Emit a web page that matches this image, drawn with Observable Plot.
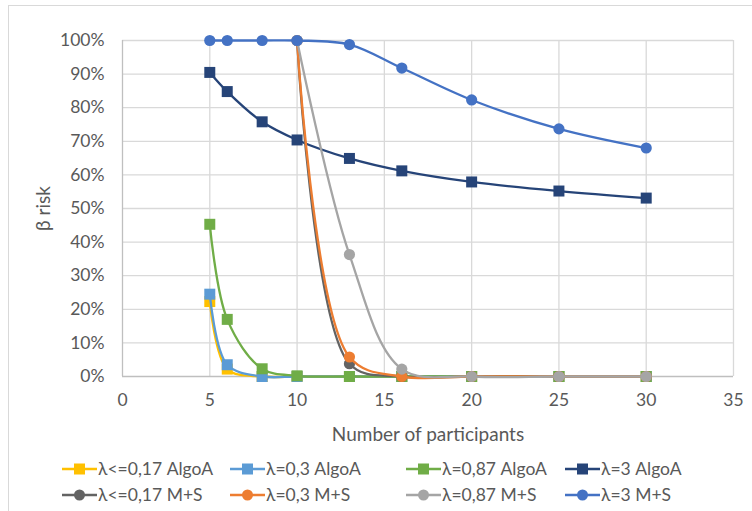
<!DOCTYPE html>
<html>
<head>
<meta charset="utf-8">
<script src="https://cdn.jsdelivr.net/npm/d3@7"></script>
<script src="https://cdn.jsdelivr.net/npm/@observablehq/plot@0.6"></script>
<style>
  html, body { margin: 0; padding: 0; background: #fff; }
  body { width: 752px; height: 511px; position: relative; overflow: hidden; font-family: Lato, "Open Sans", sans-serif; }
  #frame { position: absolute; left: 8px; top: 5px; width: 800px; height: 600px; border: 1.5px solid #d9d9d9; box-sizing: border-box; }
  #chart { position: absolute; left: 0; top: 0; }
  #legend { position: absolute; left: 0; top: 0; width: 752px; }
  .item { position: absolute; display: flex; align-items: center; font-size: 17.5px; color: #595959; white-space: nowrap; }
  .item svg { margin-right: 1px; }
  #chart svg g[aria-label="x-axis label"] text, #chart svg g[aria-label="y-axis label"] text { font-size: 19px; }
</style>
</head>
<body>
<div id="frame"></div>
<div id="chart"></div>
<div id="legend"></div>
<script>
// x values (number of participants)
const xAlgoA = [5, 6, 8, 10, 13, 16, 20, 25, 30];
const xMS3 = [5, 6, 8, 10, 13, 16, 20, 25, 30];
const xMS = [10, 13, 16, 20, 25, 30];

// β risk (%) per series
const algoA_017 = [22.3, 2.2, 0, 0, 0, 0, 0, 0, 0];
const algoA_03 = [24.5, 3.5, 0, 0, 0, 0, 0, 0, 0];
const algoA_087 = [45.3, 17.0, 2.3, 0.2, 0, 0, 0, 0, 0];
const algoA_3 = [90.5, 84.8, 75.8, 70.4, 64.9, 61.2, 57.9, 55.2, 53.1];
const ms_017 = [100, 3.8, 0, 0, 0, 0];
const ms_03 = [100, 5.8, 0, 0, 0, 0];
const ms_087 = [100, 36.3, 2.2, 0, 0, 0];
const ms_3 = [100, 100, 100, 100, 98.8, 91.8, 82.3, 73.7, 68.0];

const seriesNames = ["λ<=0,17 AlgoA", "λ=0,3 AlgoA", "λ=0,87 AlgoA", "λ=3 AlgoA",
                     "λ<=0,17 M+S", "λ=0,3 M+S", "λ=0,87 M+S", "λ=3 M+S"];
const seriesColors = ["#FFC000", "#5B9BD5", "#70AD47", "#264478",
                      "#636363", "#ED7D31", "#A5A5A5", "#4472C4"];
const seriesSymbols = ["square", "square", "square", "square", "circle", "circle", "circle", "circle"];
const seriesX = [xAlgoA, xAlgoA, xAlgoA, xAlgoA, xMS, xMS, xMS, xMS3];
const seriesY = [algoA_017, algoA_03, algoA_087, algoA_3, ms_017, ms_03, ms_087, ms_3];

const xTicks = [0, 5, 10, 15, 20, 25, 30, 35];
const yTicks = [0, 10, 20, 30, 40, 50, 60, 70, 80, 90, 100];

const series = seriesNames.map((name, i) => ({
  name, color: seriesColors[i], symbol: seriesSymbols[i],
  data: seriesX[i].map((x, j) => ({x, y: seriesY[i][j]}))
}));

const marks = [
  Plot.gridX(xTicks.filter(d => d > 0), {stroke: "#d9d9d9", strokeOpacity: 1, strokeWidth: 1.3}),
  Plot.gridY(yTicks.filter(d => d > 0), {stroke: "#d9d9d9", strokeOpacity: 1, strokeWidth: 1.3}),
  Plot.ruleY([0], {stroke: "#bfbfbf", strokeWidth: 1.3}),
  Plot.ruleX([0], {stroke: "#bfbfbf", strokeWidth: 1.3}),
];
for (const s of series) {
  marks.push(Plot.line(s.data, {x: "x", y: "y", stroke: s.color, strokeWidth: 2.3, curve: "catmull-rom"}));
  marks.push(Plot.dot(s.data, {x: "x", y: "y", fill: s.color, stroke: "none", symbol: s.symbol, r: s.symbol === "square" ? 6.2 : 5.6}));
}

const chart = Plot.plot({
  width: 752,
  height: 450,
  marginTop: 40,
  marginBottom: 74,
  marginLeft: 122,
  marginRight: 19,
  style: {fontFamily: "Lato, 'Open Sans', sans-serif", fontSize: "17.5px", color: "#595959", background: "transparent"},
  x: {domain: [0, 35], ticks: xTicks, tickSize: 0, tickPadding: 17, label: "Number of participants", labelAnchor: "center", labelOffset: 64, labelArrow: "none"},
  y: {domain: [0, 100], ticks: yTicks, tickSize: 0, tickPadding: 18, tickFormat: d => d + "%", label: "β risk", labelAnchor: "center", labelOffset: 86, labelArrow: "none"},
  marks
});
document.getElementById("chart").appendChild(chart);

// legend
const legend = document.getElementById("legend");
const colLeft = [62, 230, 406, 565];
const rowTop = [468, 494];
series.forEach((s, i) => {
  const div = document.createElement("div");
  div.className = "item";
  div.style.left = colLeft[i % 4] + "px";
  div.style.top = (rowTop[Math.floor(i / 4)] - 10) + "px";
  const marker = s.symbol === "square"
    ? `<rect x="12" y="4.5" width="11" height="11" fill="${s.color}"/>`
    : `<circle cx="17.5" cy="10" r="5.5" fill="${s.color}"/>`;
  div.innerHTML = `<svg width="35" height="20"><line x1="0" x2="35" y1="10" y2="10" stroke="${s.color}" stroke-width="2.3"/>${marker}</svg><span>${s.name}</span>`;
  legend.appendChild(div);
});
</script>
</body>
</html>
